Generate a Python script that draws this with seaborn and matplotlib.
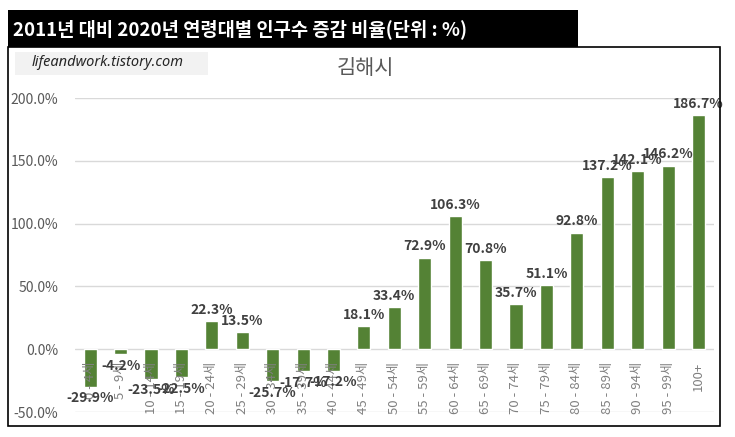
import matplotlib
matplotlib.use('Agg')
import matplotlib.pyplot as plt
from matplotlib.patches import Rectangle
import seaborn as sns
import pandas as pd

age_groups = ['0 - 4세', '5 - 9세', '10 - 14세', '15 - 19세', '20 - 24세', '25 - 29세',
              '30 - 34세', '35 - 39세', '40 - 44세', '45 - 49세', '50 - 54세', '55 - 59세',
              '60 - 64세', '65 - 69세', '70 - 74세', '75 - 79세', '80 - 84세', '85 - 89세',
              '90 - 94세', '95 - 99세', '100+']
change_pct = [-29.9, -4.2, -23.5, -22.5, 22.3, 13.5, -25.7, -17.7, -17.2, 18.1, 33.4,
              72.9, 106.3, 70.8, 35.7, 51.1, 92.8, 137.2, 142.1, 146.2, 186.7]
y_ticks = [-50, 0, 50, 100, 150, 200]

main_title = '2011년 대비 2020년 연령대별 인구수 증감 비율(단위 : %)'
chart_title = '김해시'
watermark = 'lifeandwork.tistory.com'

sns.set_theme(style='white')
plt.rcParams['font.family'] = ['Noto Sans CJK KR', 'DejaVu Sans']

df = pd.DataFrame({'age': age_groups, 'pct': change_pct})

fig = plt.figure(figsize=(7.35, 4.37), dpi=100)
ax = fig.add_axes([0.102, 0.0572, 0.869, 0.7185])

sns.barplot(data=df, x='age', y='pct', color='#548235', saturation=1, width=0.43, ax=ax)

ax.set_ylim(-50, 200)
ax.set_xlim(-0.5, len(age_groups) - 0.5)
ax.set_yticks(y_ticks)
ax.set_yticklabels([f'{v:.1f}%' for v in y_ticks])
# gridlines drawn behind bars, tick labels stay on top of bars
for v in y_ticks:
    ax.axhline(v, color='#d9d9d9', linewidth=1, zorder=0)
ax.grid(False)
ax.set_axisbelow(False)
for s in ['top', 'right', 'left', 'bottom']:
    ax.spines[s].set_visible(False)
ax.spines['bottom'].set_position(('data', 0))
ax.tick_params(axis='y', length=0, pad=12, labelsize=10, labelcolor='#595959')
ax.tick_params(axis='x', length=0, pad=9, labelsize=9.5, labelcolor='#808080', labelrotation=90)
ax.set_xlabel('')
ax.set_ylabel('')

ax.bar_label(ax.containers[0], labels=[f'{v:.1f}%' for v in change_pct], padding=3,
             fontsize=10, fontweight='bold', color='#404040')

# frames and headings
fig.patches.append(Rectangle((8 / 735, 1 - 426 / 437), 712 / 735, 379 / 437,
                             transform=fig.transFigure, fill=False, edgecolor='black', linewidth=1.2))
fig.patches.append(Rectangle((8 / 735, 1 - 47 / 437), 570 / 735, 37 / 437,
                             transform=fig.transFigure, facecolor='black', edgecolor='none'))
fig.patches.append(Rectangle((15 / 735, 1 - 75 / 437), 193 / 735, 23 / 437,
                             transform=fig.transFigure, facecolor='#f2f2f2', edgecolor='none'))
fig.text(13 / 735, 1 - 29 / 437, main_title, color='white', fontsize=13.5, fontweight='bold',
         va='center', ha='left')
fig.text(365 / 735, 1 - 68 / 437, chart_title, color='#595959', fontsize=15, va='center', ha='center')
fig.text(32 / 735, 1 - 63 / 437, watermark, color='#262626', fontsize=10.5, style='italic',
         family=['Noto Sans', 'DejaVu Sans'], va='center', ha='left')

fig.savefig('out.png', dpi=100)
